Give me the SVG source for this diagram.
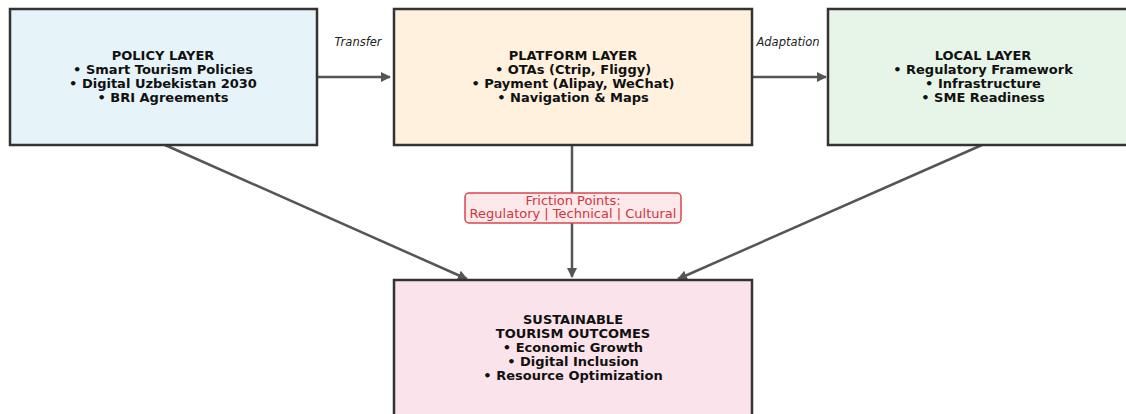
<svg xmlns="http://www.w3.org/2000/svg" width="1126" height="414" viewBox="0 0 1126 414">
<style>
.box{stroke:#333;stroke-width:2.5}
.t{font-family:"DejaVu Sans",sans-serif;font-weight:bold;font-size:13px;fill:#111;text-anchor:middle}
.lbl{font-family:"DejaVu Sans",sans-serif;font-style:italic;font-size:11.5px;fill:#222;text-anchor:middle}
.fr{font-family:"DejaVu Sans",sans-serif;font-size:13px;fill:#d0343f;text-anchor:middle}
.c{stroke:#555;stroke-width:2.5;fill:none;marker-end:url(#ah)}
</style>
<defs>
<marker id="ah" viewBox="0 0 10 10" refX="9" refY="5" markerWidth="4" markerHeight="4" orient="auto" markerUnits="strokeWidth">
<path d="M0,0 L10,5 L0,10 z" fill="#555"/>
</marker>
</defs>
<rect width="1126" height="414" fill="#fff"/>
<g id="connectors">
<line class="c" x1="317" y1="77" x2="390" y2="77"/>
<line class="c" x1="752" y1="77" x2="826" y2="77"/>
<line class="c" x1="165" y1="145" x2="467" y2="279"/>
<line class="c" x1="982" y1="145" x2="678" y2="279"/>
<line class="c" x1="572" y1="145" x2="572" y2="277"/>
<text class="lbl" x="358" y="46">Transfer</text>
<text class="lbl" x="788" y="46">Adaptation</text>
</g>
<g id="policy">
<rect class="box" x="10" y="9" width="307" height="136" fill="#e6f3f8"/>
<text class="t" x="163" y="60">POLICY LAYER</text>
<text class="t" x="163" y="74">• Smart Tourism Policies</text>
<text class="t" x="163" y="88">• Digital Uzbekistan 2030</text>
<text class="t" x="163" y="102">• BRI Agreements</text>
</g>
<g id="platform">
<rect class="box" x="394" y="9" width="358" height="136" fill="#fff1de"/>
<text class="t" x="573" y="60">PLATFORM LAYER</text>
<text class="t" x="573" y="74">• OTAs (Ctrip, Fliggy)</text>
<text class="t" x="573" y="88">• Payment (Alipay, WeChat)</text>
<text class="t" x="573" y="102">• Navigation &amp; Maps</text>
</g>
<g id="local">
<rect class="box" x="828" y="9" width="310" height="136" fill="#e7f5e8"/>
<text class="t" x="983" y="60">LOCAL LAYER</text>
<text class="t" x="983" y="74">• Regulatory Framework</text>
<text class="t" x="983" y="88">• Infrastructure</text>
<text class="t" x="983" y="102">• SME Readiness</text>
</g>
<g id="friction">
<rect x="465" y="193" width="216" height="30" rx="4" fill="#fde8ea" stroke="#d9454f" stroke-width="1.5"/>
<text class="fr" x="573" y="205">Friction Points:</text>
<text class="fr" x="573" y="218">Regulatory | Technical | Cultural</text>
</g>
<g id="outcomes">
<rect class="box" x="394" y="280" width="358" height="145" fill="#fae3ea"/>
<text class="t" x="573" y="324">SUSTAINABLE</text>
<text class="t" x="573" y="338">TOURISM OUTCOMES</text>
<text class="t" x="573" y="352">• Economic Growth</text>
<text class="t" x="573" y="366">• Digital Inclusion</text>
<text class="t" x="573" y="380">• Resource Optimization</text>
</g>
</svg>
